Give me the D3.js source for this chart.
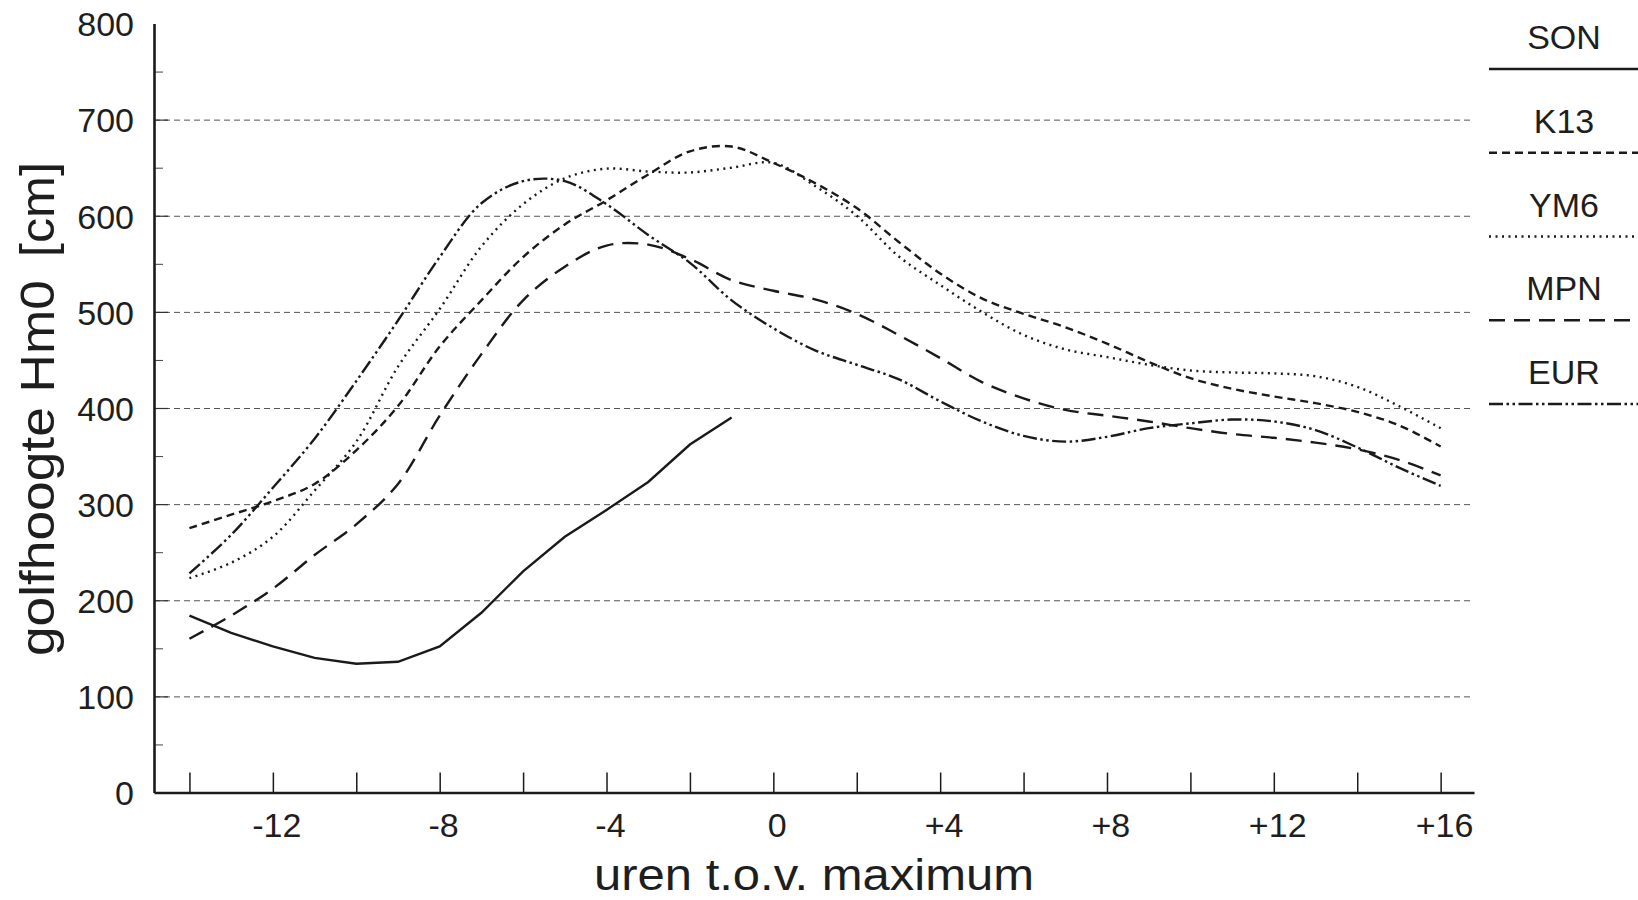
<!doctype html>
<html>
<head>
<meta charset="utf-8">
<script src="https://cdnjs.cloudflare.com/ajax/libs/d3/7.8.5/d3.min.js"></script>
<style>
  body { margin: 0; background: #fff; }
  text { font-family: "Liberation Sans", Arial, Helvetica, sans-serif; fill: #1e1e1e; }
</style>
</head>
<body>
<script>
// hours relative to the storm maximum
var hours = [-14, -13, -12, -11, -10, -9, -8, -7, -6, -5, -4, -3, -2, -1, 0,
             1, 2, 3, 4, 5, 6, 7, 8, 9, 10, 11, 12, 13, 14, 15, 16];
var sonHours = [-14, -13, -12, -11, -10, -9, -8, -7, -6, -5, -4, -3, -2, -1];

// wave height Hm0 [cm] per station
var son = [184, 166, 152, 140, 134, 136, 152, 187, 230, 266, 294, 323, 362, 390];
var k13 = [275, 289, 303, 321, 356, 402, 464, 512, 557, 591, 616, 643, 667, 672, 655,
           634, 608, 573, 540, 514, 498, 484, 467, 448, 431, 420, 412, 405, 396, 382, 360];
var ym6 = [223, 239, 266, 314, 365, 443, 503, 568, 612, 639, 649, 646, 645, 650, 655,
           631, 600, 558, 528, 500, 476, 461, 453, 445, 439, 437, 436, 433, 422, 402, 379];
var mpn = [160, 184, 212, 247, 279, 321, 392, 456, 512, 547, 569, 570, 555, 533, 522,
           513, 498, 476, 452, 427, 410, 398, 392, 386, 379, 373, 369, 364, 357, 346, 330];
var eur = [228, 268, 317, 368, 428, 491, 557, 613, 636, 636, 612, 580, 551, 512, 483,
           460, 445, 430, 407, 386, 371, 365, 370, 379, 384, 388, 386, 377, 359, 338, 319];

var stations = ["SON", "K13", "YM6", "MPN", "EUR"];

// axis ticks
var xTickHours = [-14, -12, -10, -8, -6, -4, -2, 0, 2, 4, 6, 8, 10, 12, 14, 16];
var xLabelHours = [-12, -8, -4, 0, 4, 8, 12, 16];
var xLabels = ["-12", "-8", "-4", "0", "+4", "+8", "+12", "+16"];
var yTicks = [0, 100, 200, 300, 400, 500, 600, 700, 800];
var yGrid = [100, 200, 300, 400, 500, 600, 700];
var yMinor = [50, 150, 250, 350, 450, 550, 650, 750];

var width = 1638, height = 900;

var svg = d3.select("body").append("svg")
    .attr("width", width)
    .attr("height", height);

var x = d3.scaleLinear().domain([-14.85, 16.8]).range([154, 1474]);
var y = d3.scaleLinear().domain([0, 800]).range([792.5, 23.5]);

// dashed gridlines
var grid = svg.append("g")
    .attr("transform", "translate(154,0)")
    .call(d3.axisRight(y).tickValues(yGrid).tickSize(1316).tickFormat(""));
grid.select(".domain").remove();
grid.selectAll("line")
    .attr("stroke", "#555")
    .attr("stroke-width", 1)
    .attr("stroke-dasharray", "6,4");

// solid stubs where the gridlines start
var stubs = svg.append("g")
    .attr("transform", "translate(154,0)")
    .call(d3.axisRight(y).tickValues(yGrid).tickSize(14).tickFormat(""));
stubs.select(".domain").remove();
stubs.selectAll("line").attr("stroke", "#333").attr("stroke-width", 1.2);

// minor ticks
var minor = svg.append("g")
    .attr("transform", "translate(154,0)")
    .call(d3.axisRight(y).tickValues(yMinor).tickSize(9).tickFormat(""));
minor.select(".domain").remove();
minor.selectAll("line").attr("stroke", "#444").attr("stroke-width", 1);

// y axis
var yAxis = svg.append("g")
    .attr("transform", "translate(154,0)")
    .call(d3.axisLeft(y).tickValues(yTicks).tickSize(0).tickSizeOuter(0).tickPadding(20));
yAxis.select(".domain").attr("stroke", "#1a1a1a").attr("stroke-width", 2.6);
yAxis.selectAll("text")
    .attr("font-size", "34px")
    .attr("font-family", null)
    .attr("dy", "0.36em");

// x axis, ticks point up into the plot
var xAxis = svg.append("g")
    .attr("transform", "translate(0,792.5)")
    .call(d3.axisBottom(x)
        .tickValues(xTickHours)
        .tickSizeInner(-20)
        .tickSizeOuter(0)
        .tickPadding(20)
        .tickFormat(function(d) {
            var i = xLabelHours.indexOf(d);
            return i < 0 ? "" : xLabels[i];
        }));
xAxis.select(".domain").attr("stroke", "#1a1a1a").attr("stroke-width", 2.6);
xAxis.selectAll("line").attr("stroke", "#1a1a1a").attr("stroke-width", 1.5);
xAxis.selectAll("text")
    .attr("font-size", "34px")
    .attr("font-family", null)
    .attr("dx", "0.1em");

// axis titles
svg.append("text")
    .attr("transform", "translate(54,656) rotate(-90)")
    .attr("font-size", "48px")
    .attr("textLength", 376)
    .attr("lengthAdjust", "spacingAndGlyphs")
    .text("golfhoogte Hm0");

svg.append("text")
    .attr("transform", "translate(54,257) rotate(-90)")
    .attr("font-size", "48px")
    .attr("textLength", 95)
    .attr("lengthAdjust", "spacingAndGlyphs")
    .text("[cm]");

svg.append("text")
    .attr("x", 594)
    .attr("y", 890)
    .attr("font-size", "44px")
    .attr("textLength", 440)
    .attr("lengthAdjust", "spacingAndGlyphs")
    .text("uren t.o.v. maximum");

// line styles per station
var styles = {
    SON: { dash: null, curve: d3.curveLinear },
    K13: { dash: "8,5", curve: d3.curveCatmullRom.alpha(0.5) },
    YM6: { dash: "2,4.5", curve: d3.curveCatmullRom.alpha(0.5) },
    MPN: { dash: "16,9", curve: d3.curveCatmullRom.alpha(0.5) },
    EUR: { dash: "14,3.5,2.5,3.5,2.5,3.5", curve: d3.curveCatmullRom.alpha(0.5) }
};

var series = [
    { name: "SON", h: sonHours, v: son },
    { name: "K13", h: hours, v: k13 },
    { name: "YM6", h: hours, v: ym6 },
    { name: "MPN", h: hours, v: mpn },
    { name: "EUR", h: hours, v: eur }
];

series.forEach(function(s) {
    var pts = s.v.map(function(v, i) { return [s.h[i], v]; });
    var line = d3.line()
        .x(function(d) { return x(d[0]); })
        .y(function(d) { return y(d[1]); })
        .curve(styles[s.name].curve);
    svg.append("path")
        .datum(pts)
        .attr("fill", "none")
        .attr("stroke", "#1a1a1a")
        .attr("stroke-width", 2.4)
        .attr("stroke-dasharray", styles[s.name].dash)
        .attr("d", line);
});

// legend on the right
var legend = svg.append("g");
stations.forEach(function(name, i) {
    var ly = 69 + i * 83.75;
    legend.append("line")
        .attr("x1", 1489).attr("x2", 1638)
        .attr("y1", ly).attr("y2", ly)
        .attr("stroke", "#1a1a1a")
        .attr("stroke-width", 2.4)
        .attr("stroke-dasharray", styles[name].dash);
    legend.append("text")
        .attr("x", 1564)
        .attr("y", ly - 20)
        .attr("text-anchor", "middle")
        .attr("font-size", "34px")
        .text(name);
});
</script>
</body>
</html>
